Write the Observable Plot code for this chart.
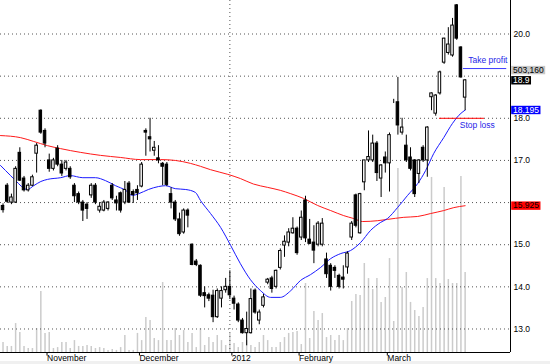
<!DOCTYPE html>
<html><head><meta charset="utf-8">
<script src="https://cdn.jsdelivr.net/npm/d3@7"></script>
<script src="https://cdn.jsdelivr.net/npm/@observablehq/plot@0.6"></script>
<style>
html,body{margin:0;padding:0;background:#fff;}
#wrap{position:relative;width:550px;height:364px;overflow:hidden;}
#wrap svg{position:absolute;left:0;top:0;}
#strip{position:absolute;left:0;top:361px;width:550px;height:3px;background:#f0f0f0;}
</style></head><body><div id="wrap"><div id="strip"></div></div>
<script>
// ---- data ----
const opens = [
15.92,16.40,16.00,16.00,17.18,16.57,16.29,16.40,17.16,18.18,
17.70,17.00,16.80,17.28,16.90,16.80,16.80,16.40,16.20,16.00,
15.95,16.17,16.40,15.81,15.81,15.85,16.40,16.05,16.22,16.00,
16.45,16.25,16.30,16.38,17.70,17.55,17.23,17.05,16.92,16.90,
16.20,16.00,15.60,15.29,15.81,15.00,14.60,14.50,13.85,13.80,
13.79,13.28,13.72,13.92,14.00,13.72,13.58,13.20,12.90,12.90,
13.91,13.20,13.55,14.10,14.20,14.00,14.45,14.98,15.05,15.27,
15.38,15.17,16.05,15.12,15.05,15.00,15.00,14.65,14.50,14.45,
14.26,14.22,14.46,15.17,16.17,15.27,16.48,17.00,17.00,17.40,
16.57,17.07,16.93,18.40,18.38,17.66,17.35,17.07,17.00,16.68,
17.30,17.00,18.50,18.11,18.59,19.32,19.55,19.49,20.68,19.68,18.49];
const highs = [
15.97,16.45,16.20,16.85,17.30,16.62,16.45,16.65,17.40,18.20,
17.75,17.15,17.05,17.35,17.00,17.00,16.85,16.45,16.25,16.05,
16.00,16.45,16.45,16.00,16.05,16.02,16.45,16.15,16.25,16.50,
16.50,16.30,16.40,16.95,17.75,18.00,17.45,17.35,16.95,16.95,
16.35,16.05,15.75,15.85,15.85,15.02,14.65,14.52,14.00,13.85,
13.92,13.95,14.00,14.20,14.38,13.78,13.62,13.25,13.40,13.95,
13.95,13.45,13.82,14.20,14.25,14.40,14.90,15.21,15.38,15.64,
15.42,15.80,16.15,15.60,15.45,15.55,15.62,14.80,14.55,14.50,
14.30,14.50,14.83,15.55,16.20,16.22,17.00,17.70,17.60,17.45,
16.90,17.20,17.65,18.45,18.97,18.00,17.60,17.30,17.02,17.02,
17.35,17.80,18.60,18.56,19.12,19.90,20.15,20.37,20.70,19.70,18.92];
const lows = [
15.75,15.98,15.95,15.98,16.50,16.25,16.25,16.38,16.70,17.62,
17.30,16.72,16.75,16.85,16.62,16.75,16.55,16.00,15.95,15.55,
15.60,16.10,15.95,15.75,15.78,15.80,16.05,15.80,15.75,15.95,
15.98,15.98,16.05,16.35,17.10,17.20,17.10,16.92,16.40,16.38,
15.85,15.55,15.20,15.25,15.40,14.50,14.48,13.75,13.50,13.65,
13.15,13.25,13.50,13.85,13.70,13.45,13.15,12.88,12.60,12.88,
13.35,13.10,13.50,14.05,13.85,13.95,14.40,14.70,14.95,15.25,
14.75,15.10,15.05,15.00,14.55,14.95,14.95,14.20,13.90,14.20,
13.95,13.95,14.30,15.10,15.40,15.25,16.28,16.95,16.95,16.50,
16.12,16.70,16.25,18.35,17.60,17.60,16.95,16.75,16.12,16.45,
16.95,16.60,18.18,18.05,18.55,19.28,19.50,19.45,19.85,18.95,18.18];
const closes = [
15.82,16.02,16.12,16.80,16.52,16.29,16.40,16.60,17.35,17.66,
17.40,16.80,17.00,16.90,16.69,16.95,16.60,16.15,16.00,15.81,
15.85,16.40,16.00,15.90,16.00,16.00,16.10,15.98,15.81,16.30,
16.00,16.18,16.22,16.90,17.66,17.50,17.30,17.00,16.85,16.42,
16.00,15.60,15.25,15.81,15.69,14.52,14.52,13.79,13.78,13.72,
13.28,13.90,13.90,14.00,13.80,13.60,13.20,12.90,13.00,13.71,
13.39,13.39,13.75,14.17,13.95,14.38,14.85,15.07,15.29,15.38,
14.80,15.64,15.15,15.02,14.86,15.50,15.50,14.30,14.00,14.38,
14.00,14.17,14.79,15.50,15.45,16.20,17.00,17.08,17.40,16.70,
16.88,16.93,17.60,18.40,17.83,17.78,17.00,16.80,16.20,17.00,
17.00,17.78,18.59,18.54,19.09,19.89,19.75,20.20,19.89,18.97,18.90];
const volumes = [
63000,38000,38000,182000,126000,38000,25000,25000,151000,384000,
120000,126000,25000,31000,63000,63000,25000,75000,38000,38000,
44000,38000,25000,31000,25000,13000,19000,13000,31000,107000,
13000,13000,120000,75000,220000,201000,88000,75000,440000,75000,
75000,151000,107000,138000,63000,120000,31000,151000,44000,94000,
63000,107000,75000,44000,120000,57000,31000,63000,75000,44000,
31000,63000,107000,75000,31000,31000,63000,94000,120000,126000,
132000,50000,434000,88000,258000,201000,245000,94000,107000,75000,
107000,75000,151000,321000,365000,359000,560000,465000,396000,465000,
315000,346000,591000,195000,1157000,409000,503000,315000,264000,226000,
283000,465000,1101000,465000,434000,1038000,459000,434000,434000,1107000,503160];

const blueIdx = [-0.6,1.8,3,5.8,7.3,9,10.6,13.7,16,19,22,24.4,26.8,29.2,30.8,32.3,34.6,37,38.7,41,
  43.5,45.8,47,49.4,51.8,54.2,56.5,58.9,61.3,63.7,66,68.5,70.8,73.2,75.6,78,80.4,82.7,85.1,87.5,
  89.9,91.5,93.9,96.3,98.7,100.6,102.5,104.9,107,108.5,110];
const blueVal = [16.88,16.64,16.52,16.31,16.40,16.50,16.55,16.59,16.64,16.59,16.59,16.52,16.40,16.29,16.17,16.21,16.31,16.38,16.40,16.33,
  16.31,16.24,16.05,15.74,15.41,14.98,14.55,14.17,13.91,13.75,13.75,13.91,14.15,14.29,14.46,14.67,14.79,14.86,15.05,15.34,
  15.53,15.62,15.88,16.17,16.45,16.76,17.16,17.54,17.88,18.07,18.195];
const redIdx = [-0.6,4.2,7.3,10.6,13.7,18.5,23.2,28,32.7,37.5,41,44.6,47,49.4,53.5,56.5,59.6,63,66,68.5,
  71.5,74.9,78,81.1,83.5,85.6,89.2,91.5,95.4,98.7,101.8,104.9,107.3,110];
const redVal = [17.59,17.54,17.45,17.35,17.28,17.19,17.12,17.07,17.02,17.02,17.00,16.93,16.86,16.78,16.67,16.57,16.44,16.36,16.29,16.21,
  16.10,15.93,15.81,15.69,15.62,15.55,15.57,15.60,15.65,15.67,15.74,15.81,15.88,15.925];

const monthTicks = [10,32,54,70,91];
const monthLabels = ["November","December","2012","February","March"];
const priceTicks = [13,14,15,17,18,20];
const gridLevels = [13,14,15,16,17,18,19,20];
const yearBreak = 54;

const takeProfit = 19.18, stopLoss = 18.0;
const tpSpan = [109.6, 119.9], slSpan = [103.9, 114.6];
const notes = [
  {text:"Take profit", x:115.4, y:19.37},
  {text:"Stop loss", x:112.9, y:17.83}
];
const lastVolume = "503,160";
const valueLabels = [
  {label:"18.9", y:18.9},
  {label:"18.195", y:18.195},
  {label:"15.925", y:15.925}
];
const boxStyle = {"503,160":["#c8c8c8","#000"], "18.9":["#000","#fff"], "18.195":["#0000ff","#fff"], "15.925":["#ff0000","#000"]};

// ---- build ----
const candles = opens.map((o,i)=>({i, o, h:highs[i], l:lows[i], c:closes[i], up: closes[i] >= o}));
const vol = volumes.map((v,i)=>({i, v}));
const blue = blueIdx.map((x,k)=>({x, y: blueVal[k]}));
const red = redIdx.map((x,k)=>({x, y: redVal[k]}));

const xDom = [-0.6, 120.8];
const yDom = [12.442, 20.795];
const font = "Arial, 'Liberation Sans', sans-serif";
const common = {width:550, height:364, marginTop:0, marginBottom:12, marginLeft:0, marginRight:40,
  style:{background:"transparent", fontFamily:font, fontSize:"8.5px", overflow:"visible"}};

const volPlot = Plot.plot({...common,
  x:{domain:xDom, axis:null}, y:{domain:[0, 2214080], axis:null},
  marks:[ Plot.ruleX(vol, {x:"i", y1:()=>0, y2:"v", stroke:"#cbcbcb", strokeWidth:1.5}) ]
});

const pricePlot = Plot.plot({...common,
  x:{domain:xDom}, y:{domain:yDom},
  marks:[
    Plot.ruleY(gridLevels, {stroke:"#555", strokeDasharray:"1,3"}),
    Plot.ruleX([yearBreak], {stroke:"#555", strokeDasharray:"1,3"}),
    Plot.line(red, {x:"x", y:"y", stroke:"#ff1a1a", strokeWidth:1, curve:"monotone-x"}),
    Plot.line(blue, {x:"x", y:"y", stroke:"#1a1aff", strokeWidth:1, curve:"monotone-x"}),
    Plot.ruleX(candles, {x:"i", y1:"l", y2:"h", stroke:"#000", strokeWidth:1}),
    Plot.rect(candles, {x1:d=>d.i-0.3, x2:d=>d.i+0.3, y1:"o", y2:"c",
      fill:d=>d.up?"#fff":"#000", stroke:"#000", strokeWidth:1}),
    Plot.ruleY([takeProfit], {x1:tpSpan[0], x2:tpSpan[1], stroke:"#3a3aff", strokeWidth:1}),
    Plot.ruleY([stopLoss], {x1:slSpan[0], x2:slSpan[1], stroke:"#ff0000", strokeWidth:1}),
    Plot.text(notes, {x:"x", y:"y", text:"text", fill:"#2626e8", fontSize:8.5, textAnchor:"middle"}),
    Plot.ruleX([xDom[1]], {stroke:"#000"}),
    Plot.ruleY([yDom[0]], {stroke:"#000"}),
    Plot.axisY({anchor:"right", ticks:priceTicks, tickSize:0, tickPadding:3, tickFormat:d3.format(".1f"), fontSize:8.5}),
    Plot.axisX({anchor:"bottom", ticks:monthTicks, tickFormat:d=>monthLabels[monthTicks.indexOf(d)],
      tickSize:3.5, tickPadding:-1.5, textAnchor:"start", dx:2, fontSize:8.5}),
    Plot.text(valueLabels, {x:()=>xDom[1], y:"y", text:"label", dx:2.5, textAnchor:"start",
      fill:d=>boxStyle[d.label][1], fontSize:8.5}),
    Plot.text([{label:lastVolume, y:18.9}], {x:()=>xDom[1], y:"y", text:"label", dx:2.5, dy:-10.2, textAnchor:"start",
      fill:d=>boxStyle[d.label][1], fontSize:8.5})
  ]
});

const wrap = document.getElementById("wrap");
wrap.appendChild(volPlot);
wrap.appendChild(pricePlot);

// background boxes behind the value labels, sized from the text itself
const NS = "http://www.w3.org/2000/svg";
pricePlot.querySelectorAll('text').forEach(t => {
  const key = t.textContent;
  if (!(key in boxStyle)) return;
  if (t.closest('g[aria-label^="y-axis"]')) return;
  const b = t.getBBox();
  const r = document.createElementNS(NS, "rect");
  r.setAttribute("x", b.x - 1.8);
  r.setAttribute("y", b.y + 1);
  r.setAttribute("width", b.width + 3);
  r.setAttribute("height", b.height - 1.6);
  r.setAttribute("fill", boxStyle[key][0]);
  const tr = t.getAttribute("transform");
  if (tr) r.setAttribute("transform", tr);
  t.parentNode.insertBefore(r, t);
});
</script></body></html>
